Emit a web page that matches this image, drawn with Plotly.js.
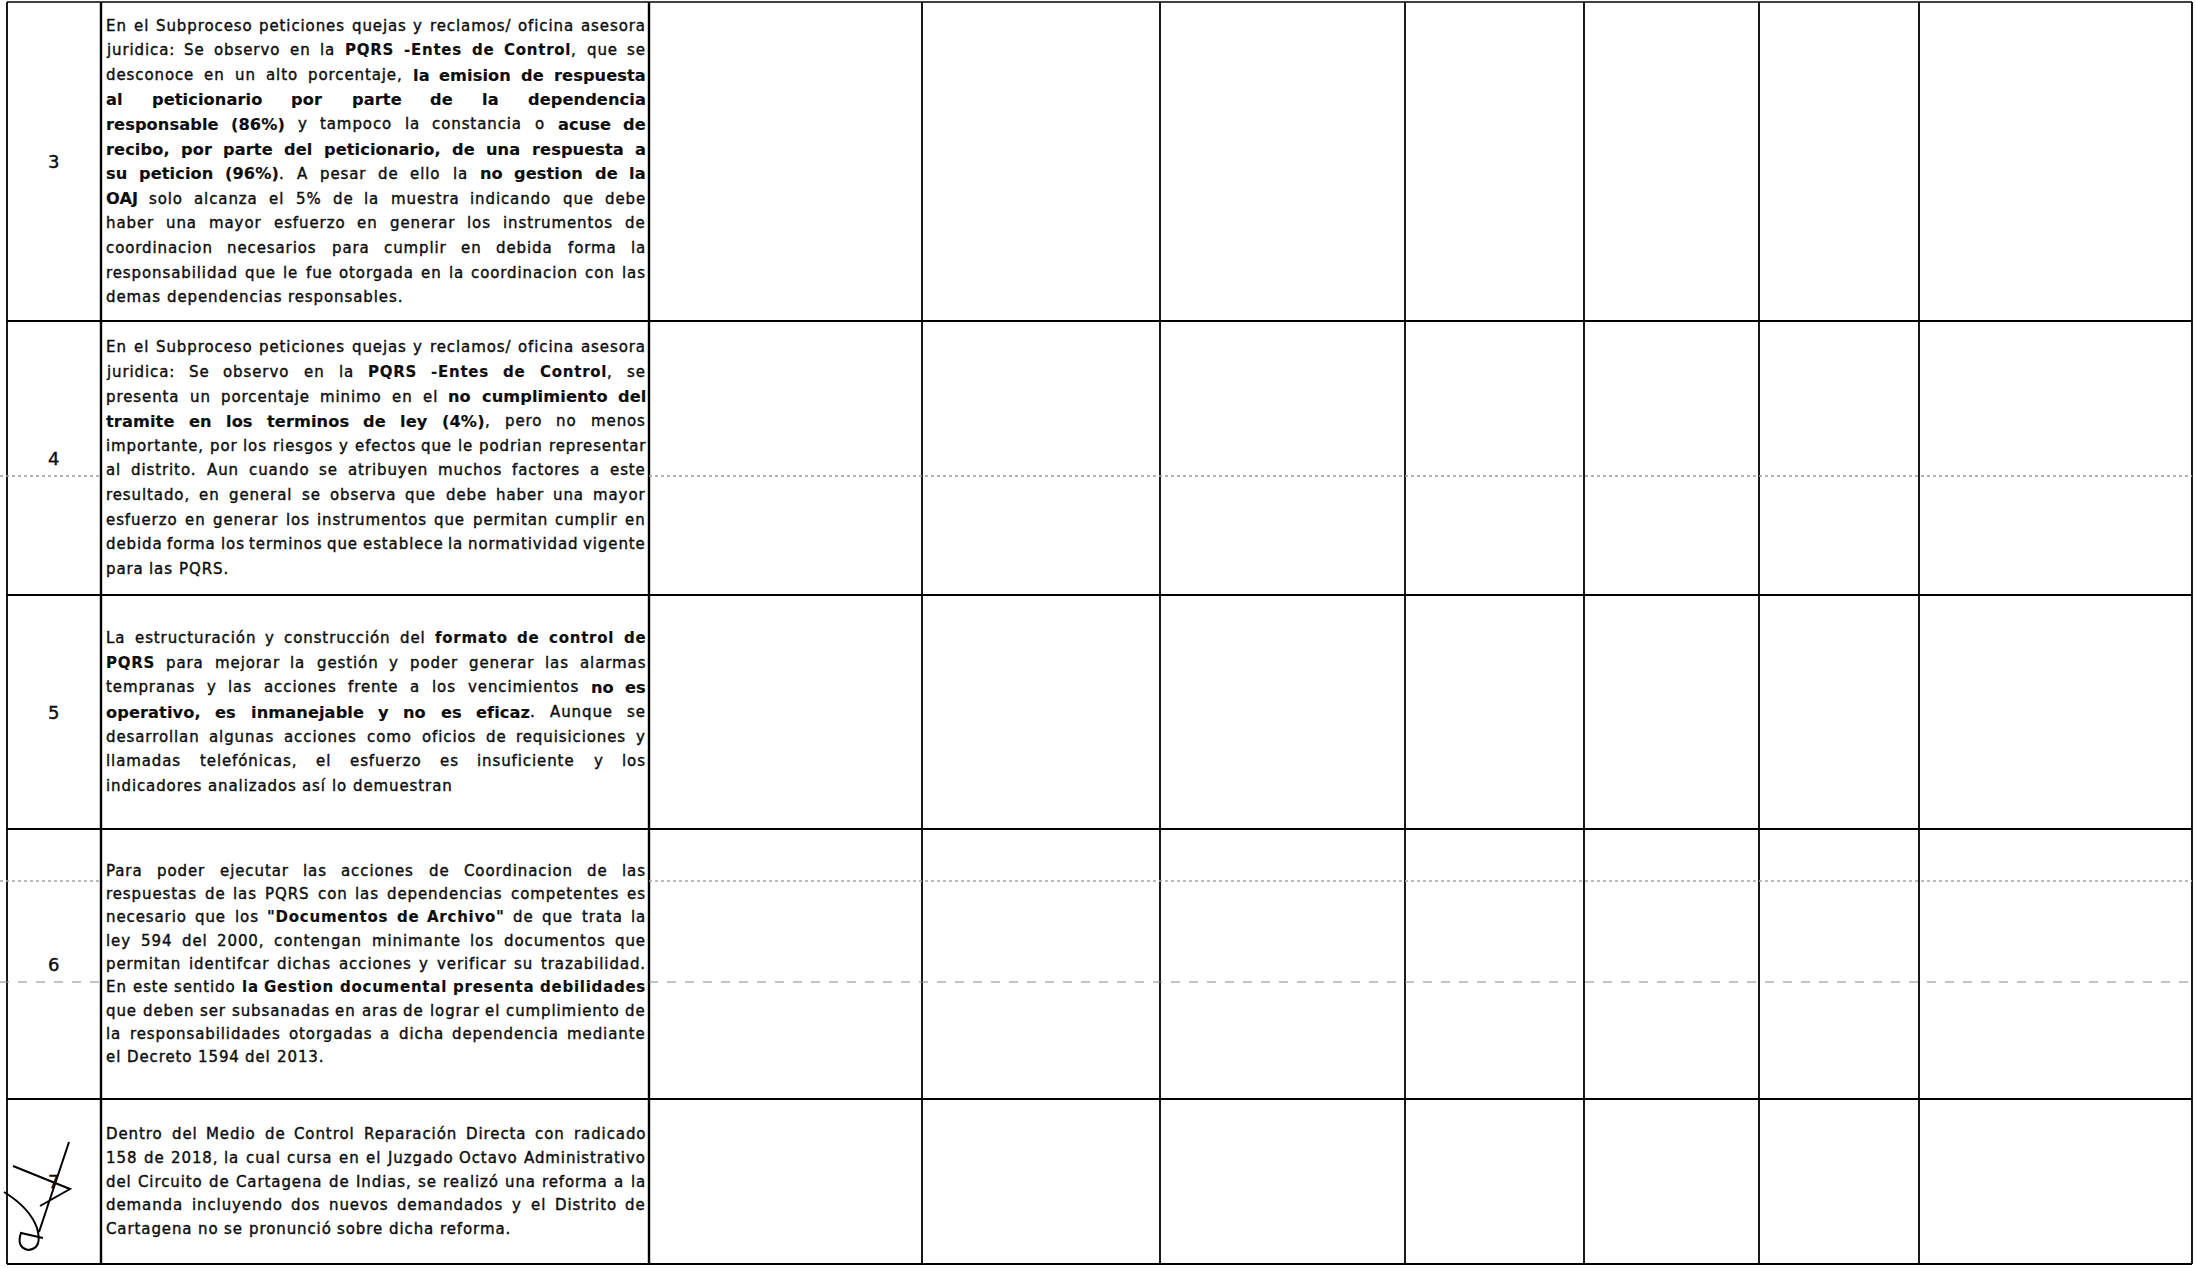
<!DOCTYPE html>
<html><head><meta charset="utf-8">
<script src="https://cdn.plot.ly/plotly-3.0.1.min.js"></script>
<style>html,body{margin:0;padding:0;background:#fff;overflow:hidden}#chart{width:2196px;height:1268px}</style>
</head><body><div id="chart"></div>
<script>
// ---------- content (markup: *bold*, #large bold#) ----------
const itemNumbers = ['3', '4', '5', '6', '7'];

const finding3 = [
  'En el Subproceso peticiones quejas y reclamos/ oficina asesora',
  'juridica: Se observo en la *PQRS -Entes de Control*,  que se',
  'desconoce en un alto porcentaje, #la emision de respuesta#',
  '#al peticionario por parte de la dependencia#',
  '#responsable (86%)# y tampoco la constancia o #acuse de#',
  '#recibo, por parte del peticionario, de una respuesta a#',
  '#su peticion (96%)#. A pesar de ello la #no gestion de la#',
  '#OAJ# solo alcanza el 5% de la muestra indicando que debe',
  'haber una mayor esfuerzo en generar los instrumentos de',
  'coordinacion necesarios para cumplir en debida forma la',
  'responsabilidad que le fue otorgada en la coordinacion con las',
  'demas dependencias responsables.'
];
const finding4 = [
  'En el Subproceso peticiones quejas y reclamos/ oficina asesora',
  'juridica: Se observo en la *PQRS -Entes de Control*, se',
  'presenta un porcentaje minimo en el #no cumplimiento del#',
  '#tramite en los terminos de ley (4%)#, pero no menos',
  'importante, por los riesgos y efectos que le podrian representar',
  'al distrito. Aun cuando se atribuyen muchos factores a este',
  'resultado, en general se observa que debe haber una mayor',
  'esfuerzo en generar los instrumentos que permitan cumplir en',
  'debida forma los terminos que establece la normatividad vigente',
  'para las PQRS.'
];
const finding5 = [
  'La estructuración y construcción del *formato de control de*',
  '*PQRS* para mejorar la gestión y poder generar las alarmas',
  'tempranas y las acciones frente a los vencimientos #no es#',
  '#operativo, es inmanejable y no es eficaz#. Aunque se',
  'desarrollan algunas acciones como oficios de requisiciones y',
  'llamadas telefónicas, el esfuerzo es insuficiente y los',
  'indicadores analizados así lo demuestran'
];
const finding6 = [
  'Para poder ejecutar las acciones de Coordinacion de las',
  'respuestas de las PQRS con las dependencias competentes es',
  'necesario que los *"Documentos de Archivo"* de que trata la',
  'ley 594 del 2000, contengan minimante los documentos que',
  'permitan identifcar dichas acciones  y verificar su trazabilidad.',
  'En este sentido *la Gestion documental presenta debilidades*',
  'que deben ser subsanadas en aras de lograr el cumplimiento de',
  'la responsabilidades otorgadas a dicha dependencia mediante',
  'el Decreto 1594 del 2013.'
];
const finding7 = [
  'Dentro del Medio de Control  Reparación Directa con radicado',
  '158 de 2018, la cual cursa en el Juzgado Octavo Administrativo',
  'del Circuito de Cartagena de Indias, se realizó una reforma a la',
  'demanda incluyendo dos nuevos demandados y el Distrito de',
  'Cartagena no se pronunció sobre dicha reforma.'
];
const findings = [finding3, finding4, finding5, finding6, finding7];

// ---------- layout (page pixels) ----------
const W = 2196, H = 1268;
const colEdges = [7, 101, 649, 922, 1160, 1405, 1584, 1759, 1919, 2192];
const rowEdges = [2, 321, 595, 829, 1099, 1264];
const lineGap = [24.7, 24.6, 24.7, 23.3, 23.8];
const TEXT_L = 106, TEXT_R = 646;
const FAMILY = 'DejaVu Sans';
const SIZES = [15, 15, 16.2];            // regular, bold, large bold
const SPACING = [0.9, 0.75, 0.1];        // letter spacing per style (scan is widened)
const STROKE = [0.4, 0.15, 0.15];        // extra ink to mimic scanned strokes
const INK = '#0d0d0d';

const canvas = document.createElement('canvas');
const ctx = canvas.getContext('2d');
function measure(text, style, k) {
  ctx.font = (style ? 'bold ' : '') + SIZES[style] + 'px "' + FAMILY + '"';
  return ctx.measureText(text).width + SPACING[style] * k * [...text].length;
}
function parseLine(s) {
  let style = 0; const words = []; let cur = []; let run = null;
  for (const ch of s) {
    if (ch === '*') { style = style === 1 ? 0 : 1; run = null; continue; }
    if (ch === '#') { style = style === 2 ? 0 : 2; run = null; continue; }
    if (ch === ' ') { if (cur.length) { words.push(cur); cur = []; } run = null; continue; }
    if (!run || run.style !== style) { run = { text: '', style: style }; cur.push(run); }
    run.text += ch;
  }
  if (cur.length) words.push(cur);
  return words;
}
function runText(run, k) {
  const css = 'letter-spacing:' + (SPACING[run.style] * k).toFixed(2) + 'px;stroke:' + INK +
    ';stroke-width:' + STROKE[run.style] + 'px';
  const inner = '<span style="' + css + '">' + run.text + '</span>';
  return run.style ? '<b>' + inner + '</b>' : inner;
}

const annotations = [];
const shapes = [];

// item numbers
itemNumbers.forEach((n, i) => {
  annotations.push({
    xref: 'x', yref: 'y', x: (colEdges[0] + colEdges[1]) / 2 - 1,
    y: (rowEdges[i] + rowEdges[i + 1]) / 2, showarrow: false,
    text: '<span style="stroke:' + INK + ';stroke-width:0.4px">' + n + '</span>',
    xanchor: 'center', yanchor: 'middle',
    font: { family: FAMILY, size: 18, color: INK }
  });
});

// justified paragraphs
findings.forEach((lines, r) => {
  const center = (rowEdges[r] + rowEdges[r + 1]) / 2;
  const first = center - (lines.length - 1) / 2 * lineGap[r];
  lines.forEach((line, li) => {
    const y = first + li * lineGap[r];
    const words = parseLine(line);
    const isLast = li === lines.length - 1;
    let k = 1;
    const widthsFor = kk => words.map(w => w.reduce((s, run) => s + measure(run.text, run.style, kk), 0));
    let widths = widthsFor(k);
    let total = widths.reduce((a, b) => a + b, 0);
    const space = measure(' ', 0, 1);
    let gap = space;
    if (!isLast && words.length > 1) {
      gap = (TEXT_R - TEXT_L - total) / (words.length - 1);
      const minGap = 0.7 * space;
      let guard = 0;
      while (gap < minGap && k > 0 && guard++ < 20) {
        k = Math.max(0, k - 0.1);
        widths = widthsFor(k);
        total = widths.reduce((a, b) => a + b, 0);
        gap = (TEXT_R - TEXT_L - total) / (words.length - 1);
      }
    }
    let x = TEXT_L;
    words.forEach((w, wi) => {
      let rx = x;
      w.forEach(run => {
        annotations.push({
          xref: 'x', yref: 'y', x: rx, y: y, showarrow: false,
          xanchor: 'left', yanchor: 'middle', borderpad: 0, borderwidth: 0,
          text: runText(run, k),
          font: { family: FAMILY, size: SIZES[run.style], color: INK }
        });
        rx += measure(run.text, run.style, k);
      });
      x += widths[wi] + gap;
    });
  });
});

// grid lines
colEdges.forEach((cx, i) => {
  shapes.push({ type: 'line', xref: 'x', yref: 'y', x0: cx, x1: cx,
    y0: rowEdges[0], y1: rowEdges[rowEdges.length - 1],
    line: { color: '#000', width: (i === 1 || i === 2) ? 2.4 : 1.8 } });
});
rowEdges.forEach((ry, i) => {
  shapes.push({ type: 'line', xref: 'x', yref: 'y', x0: colEdges[0], x1: colEdges[colEdges.length - 1],
    y0: ry, y1: ry, line: { color: '#000', width: i === 0 ? 1.6 : 2.2 } });
});

// faint scan streaks
[[476, 'dot', '#9a9a9a', 1.5], [881, 'dot', '#a5a5a5', 1.3], [982, 'dash', '#888', 1.1]].forEach(s => {
  [[0, colEdges[1]], [colEdges[2], colEdges[colEdges.length - 1]]].forEach(seg => {
    shapes.push({ type: 'line', xref: 'x', yref: 'y', x0: seg[0], x1: seg[1], y0: s[0], y1: s[0],
      line: { color: s[2], width: s[3], dash: s[1] } });
  });
});

// signature over the last item number
shapes.push({ type: 'path', xref: 'x', yref: 'y',
  path: 'M 69 1142 L 39 1232 M 13 1166 L 70 1189 L 40 1206 M 4 1192 Q 30 1208 37 1228 Q 43 1249 28 1250 Q 16 1247 21 1233 L 43 1238',
  line: { color: '#000', width: 2 } });

const layout = {
  width: W, height: H, margin: { l: 0, r: 0, t: 0, b: 0, pad: 0 },
  paper_bgcolor: '#fff', plot_bgcolor: '#fff', showlegend: false,
  xaxis: { range: [0, W], visible: false, fixedrange: true },
  yaxis: { range: [H, 0], visible: false, fixedrange: true },
  annotations: annotations, shapes: shapes
};
Plotly.newPlot('chart', [], layout, { staticPlot: true, displayModeBar: false });
</script>
</body></html>
